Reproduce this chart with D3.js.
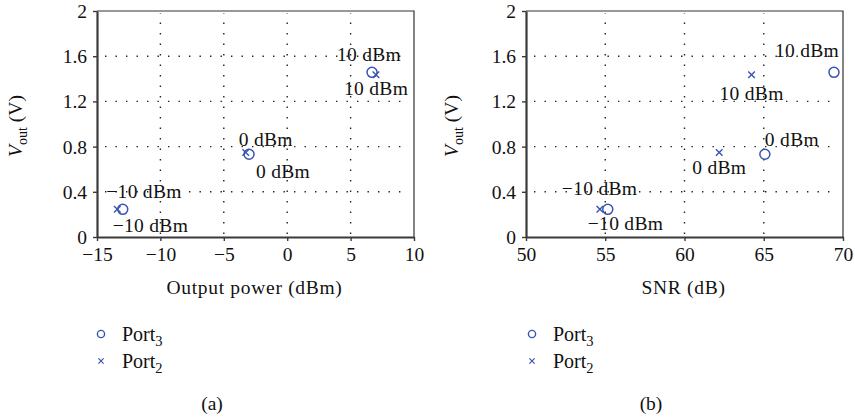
<!DOCTYPE html>
<html lang="en">
<head>
    <meta charset="UTF-8">
    <title>vout_panels</title>
    <script src="https://d3js.org/d3.v7.min.js"></script>
</head>
<body>
</body>
<style>
    * {
        margin: 0;
        padding: 0;
    }
    body {
        background: #fff;
    }
    svg text {
        font-family: "Liberation Serif", "Times New Roman", serif;
        fill: #111;
    }
    .grid line {
        stroke: #222;
        stroke-width: 1.4;
        stroke-dasharray: 1.4, 9.1;
    }
</style>
<script>
    // values
    var levels = ["\u221210 dBm", "0 dBm", "10 dBm"]
    var voutPort3 = [0.245, 0.732, 1.457]
    var voutPort2 = [0.245, 0.748, 1.436]
    var powerPort3 = [-12.97, -3.01, 6.69]
    var powerPort2 = [-13.4, -3.27, 7.0]
    var snrPort3 = [55.16, 65.07, 69.43]
    var snrPort2 = [54.66, 62.19, 64.23]
    var yTicks = [0, 0.4, 0.8, 1.2, 1.6, 2]
    var powerTicks = [-15, -10, -5, 0, 5, 10]
    var snrTicks = [50, 55, 60, 65, 70]

    var blue = "#3a54b4"
    var W = 855, H = 419
    var fs = 19.5

    var svg = d3.select("body")
        .append("svg")
        .attr("width", W)
        .attr("height", H)

    function drawPanel(opt) {
        var g = svg.append("g").attr("transform", "translate(" + opt.left + "," + opt.top + ")")
        var w = opt.width, h = opt.height

        var x = d3.scaleLinear().domain(opt.xDomain).range([0, w])
        var y = d3.scaleLinear().domain([0, 2]).range([h, 0])

        // dotted grid
        var grid = g.append("g").attr("class", "grid")
        grid.selectAll("line.v")
            .data(opt.xTicks.slice(1, -1))
            .enter().append("line")
            .attr("class", "v")
            .attr("x1", function(d) { return x(d) })
            .attr("x2", function(d) { return x(d) })
            .attr("y1", h - 3)
            .attr("y2", 2)
        grid.selectAll("line.h")
            .data(yTicks.slice(1, -1))
            .enter().append("line")
            .attr("class", "h")
            .attr("x1", 8)
            .attr("x2", w - 10)
            .attr("y1", function(d) { return y(d) })
            .attr("y2", function(d) { return y(d) })

        // frame top / right
        g.append("path")
            .attr("d", "M0,0H" + w + "V" + h)
            .attr("fill", "none")
            .attr("stroke", "#333")
            .attr("stroke-width", 1.2)

        var xAxis = g.append("g")
            .attr("transform", "translate(0," + h + ")")
            .call(d3.axisBottom(x).tickValues(opt.xTicks).tickSize(4).tickSizeOuter(0).tickPadding(6))
        var yAxis = g.append("g")
            .call(d3.axisLeft(y).tickValues(yTicks).tickSize(4).tickSizeOuter(0).tickPadding(6)
                .tickFormat(d3.format("")))
        ;[xAxis, yAxis].forEach(function(a) {
            a.select(".domain").attr("stroke", "#3a3a3a").attr("stroke-width", 2.2)
            a.selectAll(".tick line").attr("stroke", "#3a3a3a").attr("stroke-width", 1.4)
            a.selectAll(".tick text")
                .attr("font-family", "Liberation Serif")
                .attr("font-size", fs)
                .attr("fill", "#111")
        })
        xAxis.selectAll(".tick text").attr("dy", "0.72em")
        yAxis.selectAll(".tick text").attr("dy", "0.33em")

        // axis titles
        g.append("text")
            .attr("x", w / 2 + opt.xTitleShift)
            .attr("y", h + 57)
            .attr("text-anchor", "middle")
            .attr("font-size", fs)
            .style("letter-spacing", "0.7px")
            .text(opt.xTitle)

        var yt = g.append("text")
            .attr("transform", "translate(" + opt.yTitleX + "," + (h / 2 + 2) + ") rotate(-90)")
            .attr("text-anchor", "middle")
            .attr("font-size", fs)
        yt.append("tspan").attr("font-style", "italic").text("V")
        yt.append("tspan").attr("font-size", 14).attr("dy", 5).text("out")
        yt.append("tspan").attr("dy", -5).text(" (V)")

        // markers
        var p3 = opt.x3.map(function(v, i) { return {x: v, y: voutPort3[i], label: levels[i]} })
        var p2 = opt.x2.map(function(v, i) { return {x: v, y: voutPort2[i], label: levels[i]} })

        g.selectAll("circle.p3")
            .data(p3)
            .enter().append("circle")
            .attr("class", "p3")
            .attr("cx", function(d) { return x(d.x) })
            .attr("cy", function(d) { return y(d.y) })
            .attr("r", 5)
            .attr("fill", "none")
            .attr("stroke", blue)
            .attr("stroke-width", 1.5)

        g.selectAll("path.p2")
            .data(p2)
            .enter().append("path")
            .attr("class", "p2")
            .attr("d", function(d) {
                var cx = x(d.x), cy = y(d.y), s = 3.3
                return "M" + (cx - s) + "," + (cy - s) + "L" + (cx + s) + "," + (cy + s) +
                    "M" + (cx - s) + "," + (cy + s) + "L" + (cx + s) + "," + (cy - s)
            })
            .attr("stroke", blue)
            .attr("stroke-width", 1.4)

        // point labels
        function labels(pts, offs) {
            g.selectAll(null)
                .data(pts)
                .enter().append("text")
                .attr("x", function(d, i) { return x(d.x) + offs[i][0] })
                .attr("y", function(d, i) { return y(d.y) + offs[i][1] })
                .attr("font-size", fs)
                .style("letter-spacing", "0.3px")
                .text(function(d) { return d.label })
        }
        labels(p3, opt.off3)
        labels(p2, opt.off2)

        // legend
        var lg = svg.append("g").attr("transform", "translate(" + opt.legendX + ",0)")
        lg.append("circle")
            .attr("cx", 0).attr("cy", 334).attr("r", 3.6)
            .attr("fill", "none").attr("stroke", blue).attr("stroke-width", 1.4)
        lg.append("path")
            .attr("d", "M-2.6,358.4L2.6,363.6M-2.6,363.6L2.6,358.4")
            .attr("stroke", blue).attr("stroke-width", 1.2)
        ;[["3", 341], ["2", 368]].forEach(function(p) {
            var t = lg.append("text").attr("x", 21).attr("y", p[1]).attr("font-size", 20)
            t.append("tspan").text("Port")
            t.append("tspan").attr("font-size", 14.5).attr("dy", 5).text(p[0])
        })

        svg.append("text")
            .attr("x", opt.capX)
            .attr("y", 410)
            .attr("text-anchor", "middle")
            .attr("font-size", fs)
            .text(opt.caption)
    }

    drawPanel({
        left: 97, top: 11, width: 317, height: 226,
        xDomain: [-15, 10], xTicks: powerTicks,
        x3: powerPort3, x2: powerPort2,
        off3: [[-10, 23], [7, 24], [-28, 23]],
        off2: [[-11, -11], [-7, -6], [-39, -14]],
        xTitle: "Output power (dBm)", xTitleShift: -1, yTitleX: -75,
        legendX: 101, capX: 212, caption: "(a)"
    })

    drawPanel({
        left: 526, top: 11, width: 317, height: 226,
        xDomain: [50, 70], xTicks: snrTicks,
        x3: snrPort3, x2: snrPort2,
        off3: [[-20, 21], [0, -8], [-59, -15]],
        off2: [[-38, -14], [-27, 22], [-32, 25]],
        xTitle: "SNR (dB)", xTitleShift: -1, yTitleX: -68,
        legendX: 532, capX: 651, caption: "(b)"
    })
</script>
</html>
